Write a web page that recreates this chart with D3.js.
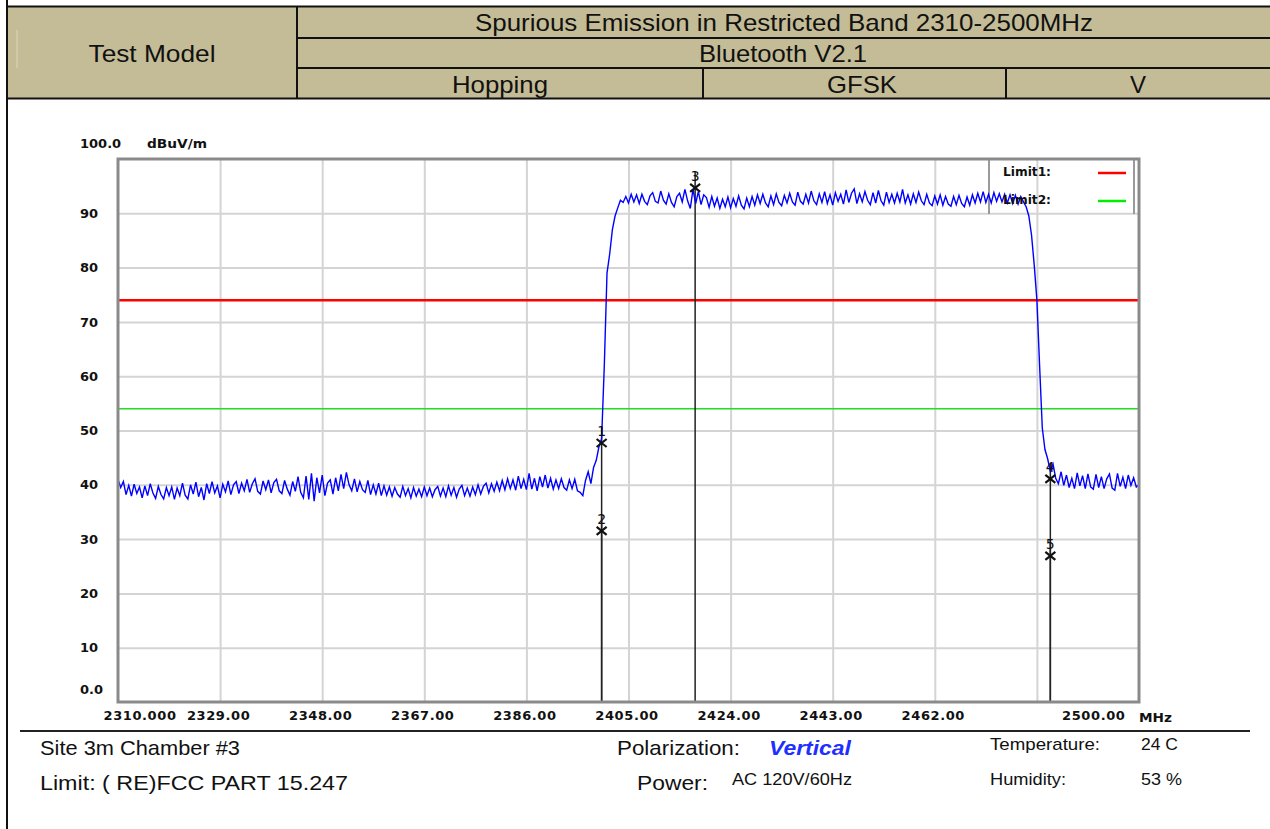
<!DOCTYPE html>
<html><head><meta charset="utf-8">
<script src="https://cdn.jsdelivr.net/npm/d3@7"></script>
<style>body{margin:0;background:#fff;}svg{display:block}</style>
</head><body><svg id="c" width="1270" height="829"></svg>
<script>
// ---------------- data ----------------
const freqStart = 2310, freqStep = 0.5;   // sweep start (MHz) and step
const levels = [
// 2310 - 2319.5
41.0,39.5,40.6,38.2,39.9,37.9,40.1,38.4,39.6,37.6,39.8,38.0,40.2,38.5,37.5,39.7,38.2,37.4,39.5,38.0,
// 2320 - 2329.5
39.6,37.3,39.4,38.0,40.3,38.1,37.4,40.0,38.3,40.5,37.8,39.5,37.2,40.2,38.4,40.6,38.5,39.8,37.6,40.1,
// 2330 - 2339.5
38.7,40.7,38.2,40.0,40.6,38.4,40.3,38.9,41.0,38.6,40.2,41.1,38.8,38.3,40.7,39.1,40.9,38.5,40.4,41.0,
// 2340 - 2349.5
38.9,38.4,40.8,39.2,38.1,40.6,38.8,41.5,38.6,37.6,41.6,37.3,42.1,37.0,41.3,38.5,41.8,38.0,40.3,40.9,
// 2350 - 2359.5
38.3,41.3,38.9,41.9,39.3,42.3,40.0,38.9,41.1,38.7,40.6,39.1,38.6,40.8,38.2,40.0,38.3,40.3,38.0,39.8,
// 2360 - 2369.5
38.1,39.6,37.9,39.5,38.3,37.7,39.7,38.0,39.3,37.6,39.5,37.9,39.2,37.8,39.6,38.0,39.4,37.8,39.1,39.7,
// 2370 - 2379.5
37.9,39.4,37.8,39.8,38.1,39.5,37.7,39.2,39.9,38.0,39.4,37.9,39.6,38.2,40.0,38.3,39.7,40.3,38.5,40.2,
// 2380 - 2389.5
38.8,40.5,38.9,40.8,39.1,41.1,39.3,40.9,39.0,41.6,39.3,41.0,39.1,42.1,39.2,41.2,38.9,41.5,39.6,41.8,
// 2390 - 2399
39.4,41.2,39.2,40.9,39.3,41.1,39.5,39.0,40.9,39.3,41.0,38.9,38.6,38.0,40.8,42.4,40.2,43.2,44.5,
// 2399.5 - 2404 (band edge rise)
47.0,48.5,62.0,79.0,82.5,87.0,89.5,91.0,92.4,92.0,
// 2404.5 - 2478.5 (in-band)
93.1,91.9,93.5,92.1,93.4,91.8,93.5,92.2,91.6,93.2,
93.8,92.2,91.9,94.1,92.4,91.7,93.6,92.0,91.2,93.1,
93.7,92.1,94.4,92.3,90.9,94.4,91.8,94.0,91.6,93.4,
92.9,91.1,93.1,91.3,92.8,90.9,92.6,91.2,93.0,91.0,
92.7,91.3,93.2,91.5,90.8,92.8,91.2,93.1,91.5,93.4,
91.8,93.5,91.9,91.2,93.2,91.6,93.6,92.0,91.4,93.3,
91.9,93.7,92.1,91.5,93.9,92.2,91.7,93.5,91.9,94.1,
92.3,91.6,93.6,92.0,94.0,91.8,93.4,91.5,93.8,92.2,
93.5,91.7,94.3,92.0,93.7,94.5,91.8,93.6,92.1,94.0,
92.4,91.6,93.8,91.9,94.2,92.3,91.5,93.9,92.0,93.5,
91.9,93.7,92.1,94.4,91.9,93.4,91.7,93.6,92.0,93.9,
92.3,91.6,93.5,91.9,91.4,93.2,91.7,93.4,91.5,93.1,
91.7,91.3,93.1,91.6,93.3,91.8,91.2,93.0,91.5,93.4,
91.9,93.7,92.1,94.0,92.0,93.5,91.9,93.8,92.2,93.6,
92.1,93.5,91.9,93.4,91.8,93.3,91.7,93.1,92.1,
// 2479 - 2483.5 (band edge fall)
91.2,89.5,86.0,80.5,74.0,62.0,50.5,46.5,44.8,42.5,
// 2484 - 2500
43.8,41.2,40.2,42.4,39.9,41.8,39.5,41.2,39.3,42.2,
39.8,41.7,39.3,42.0,39.6,39.2,41.9,39.5,41.5,39.3,
41.1,42.0,39.4,39.0,42.1,39.7,41.4,39.3,41.8,39.9,
41.3,39.6,40.0
];
const yTickValues = [0,10,20,30,40,50,60,70,80,90,100];
const yTickLabels = ["0.0","10","20","30","40","50","60","70","80","90","100.0"];
const xGridValues = [2329,2348,2367,2386,2405,2424,2443,2462,2481];
const xTickValues = [2310,2329,2348,2367,2386,2405,2424,2443,2462,2500];
const xTickLabels = ["2310.000","2329.00","2348.00","2367.00","2386.00","2405.00","2424.00","2443.00","2462.00","2500.00"];
const limitNames = ["Limit1:","Limit2:"];
const limitLevels = [74,54];
const limitColors = ["#ff0000","#22dd22"];
const markerIds = ["1","2","3","4","5"];
const markerFreqs = [2400.0,2400.0,2417.4,2483.5,2483.5];
const markerLevels = [47.7,31.5,94.7,41.1,26.9];

// ---------------- drawing ----------------
const svg = d3.select("#c");
const AR = "'Liberation Sans', Arial, sans-serif";
const BF = "'DejaVu Sans', sans-serif";
function txt(x, y, s, o = {}) {
  const t = svg.append("text").attr("x", x).attr("y", y).text(s)
    .attr("font-family", o.ff || AR).attr("font-size", o.fs || 21)
    .attr("dominant-baseline", "central")
    .attr("text-anchor", o.anchor || "start")
    .attr("fill", o.fill || "#111");
  if (o.bold) t.attr("font-weight", "bold");
  if (o.italic) t.attr("font-style", "italic");
  if (o.w) t.attr("textLength", o.w).attr("lengthAdjust", "spacingAndGlyphs");
  return t;
}
function ln(x1, y1, x2, y2, c, w) {
  svg.append("line").attr("x1", x1).attr("y1", y1).attr("x2", x2).attr("y2", y2)
    .attr("stroke", c).attr("stroke-width", w);
}

// header table
svg.append("rect").attr("x", 7).attr("y", 7).attr("width", 1263).attr("height", 91).attr("fill", "#c4bc96");
ln(6, 6.5, 1270, 6.5, "#111", 2);
ln(7, 0, 7, 829, "#111", 2);
ln(297, 38, 1270, 38, "#111", 2);
ln(297, 68, 1270, 68, "#111", 2);
ln(7, 98.5, 1270, 98.5, "#111", 2);
ln(297, 7, 297, 98, "#111", 2);
ln(703, 68, 703, 98, "#111", 2);
ln(1006, 68, 1006, 98, "#111", 2);
ln(17, 30, 17, 68, "#ddd6bb", 1);
txt(152, 53, "Test Model", {fs: 24, anchor: "middle", w: 127});
txt(784, 22, "Spurious Emission in Restricted Band 2310-2500MHz", {fs: 24, anchor: "middle", w: 618});
txt(783, 53, "Bluetooth V2.1", {fs: 24, anchor: "middle", w: 168});
txt(500, 84, "Hopping", {fs: 24, anchor: "middle", w: 96});
txt(862, 84, "GFSK", {fs: 24, anchor: "middle", w: 70});
txt(1138, 84, "V", {fs: 24, anchor: "middle"});

// plot
const x = d3.scaleLinear().domain([2310, 2500]).range([118, 1139]);
const y = d3.scaleLinear().domain([0, 100]).range([702, 159]);
const plot = svg.append("g");

// gridlines
plot.append("g").attr("transform", "translate(118,0)")
  .call(d3.axisLeft(y).tickValues(yTickValues.filter(v => v > 0 && v < 100)).tickSize(-1021).tickFormat(""))
  .call(g => g.select(".domain").remove())
  .call(g => g.selectAll("line").attr("stroke", "#d4d4d4").attr("stroke-width", 2));
plot.append("g").attr("transform", "translate(0,702)")
  .call(d3.axisBottom(x).tickValues(xGridValues).tickSize(-543).tickFormat(""))
  .call(g => g.select(".domain").remove())
  .call(g => g.selectAll("line").attr("stroke", "#d4d4d4").attr("stroke-width", 2));

// limit lines
plot.selectAll(".lim").data(limitLevels).join("line")
  .attr("x1", x(2310)).attr("x2", x(2500))
  .attr("y1", d => y(d)).attr("y2", d => y(d))
  .attr("stroke", (d, i) => limitColors[i]).attr("stroke-width", (d, i) => i === 0 ? 2.5 : 1.5);

// marker vertical lines
plot.selectAll(".mline").data(markerFreqs).join("line")
  .attr("x1", d => x(d)).attr("x2", d => x(d))
  .attr("y1", (d, i) => y(markerLevels[i]) - 16).attr("y2", y(0))
  .attr("stroke", "#222").attr("stroke-width", 1.5);

// legend box
plot.append("path").attr("d", `M989,160 V214 M1134,160 V214`)
  .attr("stroke", "#9a9a9a").attr("stroke-width", 2).attr("fill", "none");
limitNames.forEach((n, i) => {
  const ly = 172 + i * 28;
  txt(1003, ly, n, {ff: BF, fs: 12, bold: true, w: 48});
  ln(1098, ly + 1, 1126, ly + 1, i === 0 ? "#ff0000" : "#00ee00", 2.5);
});

// trace
const line = d3.line().x((d, i) => x(freqStart + i * freqStep)).y(d => y(d));
plot.append("path").datum(levels).attr("d", line)
  .attr("fill", "none").attr("stroke", "#0000ff").attr("stroke-width", 1.4);

// marker crosses and labels
markerFreqs.forEach((f, i) => {
  const mx = x(f), my = y(markerLevels[i]);
  svg.append("path").attr("d", `M${mx-5},${my-4}L${mx+5},${my+4}M${mx+5},${my-4}L${mx-5},${my+4}`)
    .attr("stroke", "#111").attr("stroke-width", 2.2);
  txt(mx, my - 12, markerIds[i], {ff: BF, fs: 14, anchor: "middle", fill: "#111"});
});

// plot border
plot.append("rect").attr("x", 118).attr("y", 159).attr("width", 1021).attr("height", 543)
  .attr("fill", "none").attr("stroke", "#8a8a8a").attr("stroke-width", 3);

// y tick labels
plot.append("g").attr("transform", "translate(118,0)")
  .call(d3.axisLeft(y).tickValues(yTickValues).tickSize(0).tickFormat((d, i) => yTickLabels[i]))
  .call(g => g.select(".domain").remove())
  .call(g => g.selectAll("text").attr("x", -38).attr("text-anchor", "start")
    .attr("font-family", BF).attr("font-size", 13).attr("font-weight", "bold").attr("fill", "#111")
    .attr("dy", d => d === 0 ? "-0.65em" : d === 100 ? "-0.9em" : "0.32em"));
txt(147, 144, "dBuV/m", {ff: BF, fs: 12, bold: true, w: 60});

// x tick labels
plot.append("g").attr("transform", "translate(0,702)")
  .call(d3.axisBottom(x).tickValues(xTickValues).tickSize(0).tickFormat((d, i) => xTickLabels[i]))
  .call(g => g.select(".domain").remove())
  .call(g => g.selectAll("text").attr("y", 9)
    .attr("font-family", BF).attr("font-size", 13).attr("font-weight", "bold").attr("fill", "#111")
    .attr("letter-spacing", "0.6px")
    .attr("text-anchor", d => d === 2310 ? "start" : d === 2500 ? "end" : "middle")
    .attr("dx", d => d === 2310 ? -15 : d === 2500 ? -14 : -2));
txt(1139, 717, "MHz", {ff: BF, fs: 13, bold: true, w: 33});

// footer
ln(20, 731, 1250, 731, "#222", 2);
txt(40, 747, "Site  3m Chamber #3", {fs: 21, w: 200});
txt(40, 782, "Limit:  ( RE)FCC PART 15.247", {fs: 21, w: 308});
txt(617, 747, "Polarization:", {fs: 21, w: 123});
txt(769, 747, "Vertical", {fs: 21, bold: true, italic: true, fill: "#1f2fff", w: 82});
txt(637, 782, "Power:", {fs: 21, w: 71});
txt(732, 779, "AC 120V/60Hz", {fs: 17, w: 120});
txt(990, 744, "Temperature:", {fs: 17, w: 110});
txt(1141, 744, "24 C", {fs: 17, w: 37});
txt(990, 779, "Humidity:", {fs: 17, w: 76});
txt(1141, 779, "53 %", {fs: 17, w: 41});
</script></body></html>
